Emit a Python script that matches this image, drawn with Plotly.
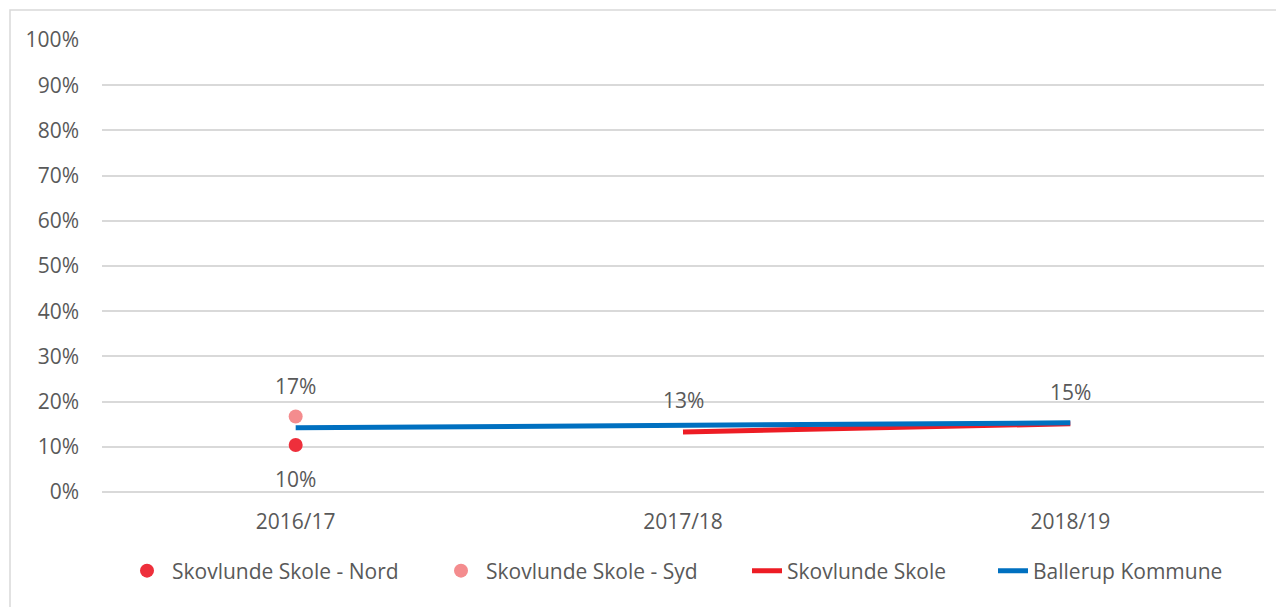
import plotly.graph_objects as go

categories = ["2016/17", "2017/18", "2018/19"]
nord = [0.104, None, None]
syd = [0.167, None, None]
skovlunde = [None, 0.133, 0.151]
ballerup = [0.142, 0.147, 0.153]
nord_labels = ["10%", "", ""]
syd_labels = ["17%", "", ""]
skovlunde_labels = ["", "13%", "15%"]
y_ticks = [i / 10 for i in range(11)]
y_tick_labels = [f"{i*10}%" for i in range(11)]

FONT = "'Open Sans', sans-serif"
TXT = "#595959"
FS = 21

# page has an 8px body margin
OFF = 8
W, H = 1284, 607
L, T = 102 - OFF, 40 - OFF
R = W - (1264 - OFF)
B = H - (492 - OFF)
pw, ph = W - L - R, H - T - B


def px_x(page_x):
    return (page_x - OFF - L) / pw


def px_y(page_y):
    return ((H - B) - (page_y - OFF)) / ph


fig = go.Figure()
fig.add_trace(go.Scatter(x=categories, y=nord, mode="markers", name="Skovlunde Skole - Nord",
                         marker=dict(color="#EE2F3B", size=14), legend="legend"))
fig.add_trace(go.Scatter(x=categories, y=syd, mode="markers", name="Skovlunde Skole - Syd",
                         marker=dict(color="#F48C8E", size=14), legend="legend2"))
fig.add_trace(go.Scatter(x=categories, y=skovlunde, mode="lines", name="Skovlunde Skole",
                         line=dict(color="#ED1C24", width=5), legend="legend3"))
fig.add_trace(go.Scatter(x=categories, y=ballerup, mode="lines", name="Ballerup Kommune",
                         line=dict(color="#0070C0", width=5), legend="legend4"))

annotations = []
for c, v, t in zip(categories, nord, nord_labels):
    if t:
        annotations.append(dict(x=c, y=v, text=t, showarrow=False, yshift=-34))
for c, v, t in zip(categories, syd, syd_labels):
    if t:
        annotations.append(dict(x=c, y=v, text=t, showarrow=False, yshift=31))
for c, v, t in zip(categories, skovlunde, skovlunde_labels):
    if t:
        annotations.append(dict(x=c, y=v, text=t, showarrow=False, yshift=32))
for a in annotations:
    a["font"] = dict(family=FONT, size=FS, color=TXT)
    a["xref"] = "x"
    a["yref"] = "y"

leg_y = px_y(571)


def leg(page_left, iw):
    return dict(x=px_x(page_left), xanchor="left", y=leg_y, yanchor="middle",
                orientation="h", itemwidth=iw, bgcolor="rgba(0,0,0,0)",
                font=dict(family=FONT, size=FS, color=TXT))


fig.update_layout(
    width=W, height=H,
    margin=dict(l=L, r=R, t=T, b=B),
    paper_bgcolor="white", plot_bgcolor="white",
    font=dict(family=FONT, size=FS, color=TXT),
    showlegend=True,
    legend=leg(122, 40),
    legend2=leg(436, 40),
    legend3=leg(747, 30),
    legend4=leg(993, 30),
    annotations=annotations,
    xaxis=dict(type="category", range=[-0.5, 2.5], showgrid=False, showline=False,
               ticks="", tickfont=dict(family=FONT, size=FS, color=TXT), ticklabelstandoff=15),
    yaxis=dict(range=[0, 1.0], tickvals=y_ticks, ticktext=y_tick_labels,
               showgrid=True, gridcolor="#D9D9D9", gridwidth=1.5, zeroline=True,
               zerolinecolor="#D9D9D9", zerolinewidth=1.5, showline=False, ticks="",
               tickfont=dict(family=FONT, size=FS, color=TXT), ticklabelstandoff=22),
    shapes=[dict(type="rect", xref="paper", yref="paper",
                 x0=px_x(10), x1=px_x(1300),
                 y0=px_y(625), y1=px_y(10),
                 line=dict(color="#D9D9D9", width=1.5), fillcolor="rgba(0,0,0,0)", layer="below")],
)

fig.write_html("out.html")
